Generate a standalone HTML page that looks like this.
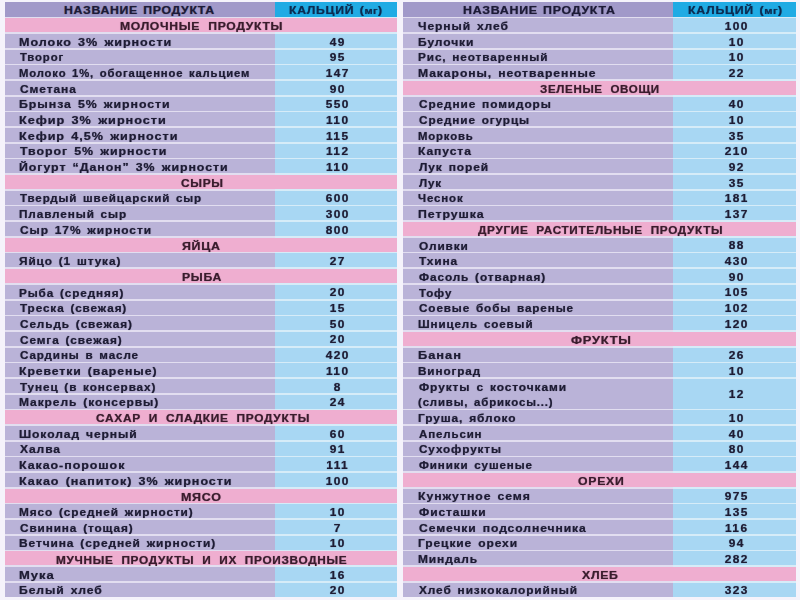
<!DOCTYPE html>
<html><head><meta charset="utf-8"><style>
html,body{margin:0;padding:0;}
body{width:800px;height:600px;position:relative;overflow:hidden;background:#f5f3fb;font-family:"Liberation Sans",sans-serif;}
.b{position:absolute;}
#w{position:absolute;left:0;top:0;width:800px;height:600px;filter:blur(0px);}
span{position:absolute;white-space:nowrap;line-height:12px;font-weight:bold;transform-origin:0 0;-webkit-text-stroke:0.15px;text-shadow:0 0 1px rgba(20,20,40,0.45);}
.tbl{position:absolute;background:#e2def0;}
.tbl2{background:#d6ecf8;}
.hn{background:#a199c9;}
.hc{background:#20abe4;}
.sec{background:#efaed0;}
.nm{background:#bab3d8;}
.val{background:#a8d7f3;}
.th{font-size:10.5px;letter-spacing:0.6px;word-spacing:1.0px;color:#1c1a36;}
.tc{color:#0c2c52;word-spacing:1.2px;}
small{font-size:9.5px;letter-spacing:0.3px;}
.ts{font-size:10.5px;letter-spacing:0.6px;word-spacing:3.5px;color:#3a1c2c;}
.tn{font-size:10.5px;letter-spacing:0.8px;word-spacing:1.5px;color:#1e1c34;}
.tv{width:80px;text-align:center;transform-origin:50% 0;transform:scaleX(1.1);font-size:10.8px;letter-spacing:1.3px;text-indent:1.3px;color:#1e1c34;}
</style></head><body><div id="w">
<div class="tbl" style="left:5.0px;top:2.20px;width:271.0px;height:594.56px"></div>
<div class="tbl tbl2" style="left:275px;top:2.20px;width:122.0px;height:594.56px"></div>
<div class="b hn" style="left:5.0px;top:2.20px;width:271.0px;height:14.50px"></div>
<div class="b hc" style="left:275px;top:2.20px;width:122.0px;height:14.50px"></div>
<div class="b sec" style="left:5.0px;top:18.28px;width:392.0px;height:14.00px"></div>
<div class="b nm" style="left:5.0px;top:33.96px;width:271.0px;height:14.00px"></div>
<div class="b val" style="left:275px;top:33.96px;width:122.0px;height:14.00px"></div>
<div class="b nm" style="left:5.0px;top:49.64px;width:271.0px;height:14.00px"></div>
<div class="b val" style="left:275px;top:49.64px;width:122.0px;height:14.00px"></div>
<div class="b nm" style="left:5.0px;top:65.32px;width:271.0px;height:14.00px"></div>
<div class="b val" style="left:275px;top:65.32px;width:122.0px;height:14.00px"></div>
<div class="b nm" style="left:5.0px;top:81.00px;width:271.0px;height:14.00px"></div>
<div class="b val" style="left:275px;top:81.00px;width:122.0px;height:14.00px"></div>
<div class="b nm" style="left:5.0px;top:96.68px;width:271.0px;height:14.00px"></div>
<div class="b val" style="left:275px;top:96.68px;width:122.0px;height:14.00px"></div>
<div class="b nm" style="left:5.0px;top:112.36px;width:271.0px;height:14.00px"></div>
<div class="b val" style="left:275px;top:112.36px;width:122.0px;height:14.00px"></div>
<div class="b nm" style="left:5.0px;top:128.04px;width:271.0px;height:14.00px"></div>
<div class="b val" style="left:275px;top:128.04px;width:122.0px;height:14.00px"></div>
<div class="b nm" style="left:5.0px;top:143.72px;width:271.0px;height:14.00px"></div>
<div class="b val" style="left:275px;top:143.72px;width:122.0px;height:14.00px"></div>
<div class="b nm" style="left:5.0px;top:159.40px;width:271.0px;height:14.00px"></div>
<div class="b val" style="left:275px;top:159.40px;width:122.0px;height:14.00px"></div>
<div class="b sec" style="left:5.0px;top:175.08px;width:392.0px;height:14.00px"></div>
<div class="b nm" style="left:5.0px;top:190.76px;width:271.0px;height:14.00px"></div>
<div class="b val" style="left:275px;top:190.76px;width:122.0px;height:14.00px"></div>
<div class="b nm" style="left:5.0px;top:206.44px;width:271.0px;height:14.00px"></div>
<div class="b val" style="left:275px;top:206.44px;width:122.0px;height:14.00px"></div>
<div class="b nm" style="left:5.0px;top:222.12px;width:271.0px;height:14.00px"></div>
<div class="b val" style="left:275px;top:222.12px;width:122.0px;height:14.00px"></div>
<div class="b sec" style="left:5.0px;top:237.80px;width:392.0px;height:14.00px"></div>
<div class="b nm" style="left:5.0px;top:253.48px;width:271.0px;height:14.00px"></div>
<div class="b val" style="left:275px;top:253.48px;width:122.0px;height:14.00px"></div>
<div class="b sec" style="left:5.0px;top:269.16px;width:392.0px;height:14.00px"></div>
<div class="b nm" style="left:5.0px;top:284.84px;width:271.0px;height:14.00px"></div>
<div class="b val" style="left:275px;top:284.84px;width:122.0px;height:14.00px"></div>
<div class="b nm" style="left:5.0px;top:300.52px;width:271.0px;height:14.00px"></div>
<div class="b val" style="left:275px;top:300.52px;width:122.0px;height:14.00px"></div>
<div class="b nm" style="left:5.0px;top:316.20px;width:271.0px;height:14.00px"></div>
<div class="b val" style="left:275px;top:316.20px;width:122.0px;height:14.00px"></div>
<div class="b nm" style="left:5.0px;top:331.88px;width:271.0px;height:14.00px"></div>
<div class="b val" style="left:275px;top:331.88px;width:122.0px;height:14.00px"></div>
<div class="b nm" style="left:5.0px;top:347.56px;width:271.0px;height:14.00px"></div>
<div class="b val" style="left:275px;top:347.56px;width:122.0px;height:14.00px"></div>
<div class="b nm" style="left:5.0px;top:363.24px;width:271.0px;height:14.00px"></div>
<div class="b val" style="left:275px;top:363.24px;width:122.0px;height:14.00px"></div>
<div class="b nm" style="left:5.0px;top:378.92px;width:271.0px;height:14.00px"></div>
<div class="b val" style="left:275px;top:378.92px;width:122.0px;height:14.00px"></div>
<div class="b nm" style="left:5.0px;top:394.60px;width:271.0px;height:14.00px"></div>
<div class="b val" style="left:275px;top:394.60px;width:122.0px;height:14.00px"></div>
<div class="b sec" style="left:5.0px;top:410.28px;width:392.0px;height:14.00px"></div>
<div class="b nm" style="left:5.0px;top:425.96px;width:271.0px;height:14.00px"></div>
<div class="b val" style="left:275px;top:425.96px;width:122.0px;height:14.00px"></div>
<div class="b nm" style="left:5.0px;top:441.64px;width:271.0px;height:14.00px"></div>
<div class="b val" style="left:275px;top:441.64px;width:122.0px;height:14.00px"></div>
<div class="b nm" style="left:5.0px;top:457.32px;width:271.0px;height:14.00px"></div>
<div class="b val" style="left:275px;top:457.32px;width:122.0px;height:14.00px"></div>
<div class="b nm" style="left:5.0px;top:473.00px;width:271.0px;height:14.00px"></div>
<div class="b val" style="left:275px;top:473.00px;width:122.0px;height:14.00px"></div>
<div class="b sec" style="left:5.0px;top:488.68px;width:392.0px;height:14.00px"></div>
<div class="b nm" style="left:5.0px;top:504.36px;width:271.0px;height:14.00px"></div>
<div class="b val" style="left:275px;top:504.36px;width:122.0px;height:14.00px"></div>
<div class="b nm" style="left:5.0px;top:520.04px;width:271.0px;height:14.00px"></div>
<div class="b val" style="left:275px;top:520.04px;width:122.0px;height:14.00px"></div>
<div class="b nm" style="left:5.0px;top:535.72px;width:271.0px;height:14.00px"></div>
<div class="b val" style="left:275px;top:535.72px;width:122.0px;height:14.00px"></div>
<div class="b sec" style="left:5.0px;top:551.40px;width:392.0px;height:14.00px"></div>
<div class="b nm" style="left:5.0px;top:567.08px;width:271.0px;height:14.00px"></div>
<div class="b val" style="left:275px;top:567.08px;width:122.0px;height:14.00px"></div>
<div class="b nm" style="left:5.0px;top:582.76px;width:271.0px;height:14.00px"></div>
<div class="b val" style="left:275px;top:582.76px;width:122.0px;height:14.00px"></div>
<div class="tbl" style="left:403.2px;top:2.20px;width:270.3px;height:594.56px"></div>
<div class="tbl tbl2" style="left:672.5px;top:2.20px;width:123.70000000000005px;height:594.56px"></div>
<div class="b hn" style="left:403.2px;top:2.20px;width:270.3px;height:14.50px"></div>
<div class="b hc" style="left:672.5px;top:2.20px;width:123.70000000000005px;height:14.50px"></div>
<div class="b nm" style="left:403.2px;top:18.28px;width:270.3px;height:14.00px"></div>
<div class="b val" style="left:672.5px;top:18.28px;width:123.70000000000005px;height:14.00px"></div>
<div class="b nm" style="left:403.2px;top:33.96px;width:270.3px;height:14.00px"></div>
<div class="b val" style="left:672.5px;top:33.96px;width:123.70000000000005px;height:14.00px"></div>
<div class="b nm" style="left:403.2px;top:49.64px;width:270.3px;height:14.00px"></div>
<div class="b val" style="left:672.5px;top:49.64px;width:123.70000000000005px;height:14.00px"></div>
<div class="b nm" style="left:403.2px;top:65.32px;width:270.3px;height:14.00px"></div>
<div class="b val" style="left:672.5px;top:65.32px;width:123.70000000000005px;height:14.00px"></div>
<div class="b sec" style="left:403.2px;top:81.00px;width:393.00000000000006px;height:14.00px"></div>
<div class="b nm" style="left:403.2px;top:96.68px;width:270.3px;height:14.00px"></div>
<div class="b val" style="left:672.5px;top:96.68px;width:123.70000000000005px;height:14.00px"></div>
<div class="b nm" style="left:403.2px;top:112.36px;width:270.3px;height:14.00px"></div>
<div class="b val" style="left:672.5px;top:112.36px;width:123.70000000000005px;height:14.00px"></div>
<div class="b nm" style="left:403.2px;top:128.04px;width:270.3px;height:14.00px"></div>
<div class="b val" style="left:672.5px;top:128.04px;width:123.70000000000005px;height:14.00px"></div>
<div class="b nm" style="left:403.2px;top:143.72px;width:270.3px;height:14.00px"></div>
<div class="b val" style="left:672.5px;top:143.72px;width:123.70000000000005px;height:14.00px"></div>
<div class="b nm" style="left:403.2px;top:159.40px;width:270.3px;height:14.00px"></div>
<div class="b val" style="left:672.5px;top:159.40px;width:123.70000000000005px;height:14.00px"></div>
<div class="b nm" style="left:403.2px;top:175.08px;width:270.3px;height:14.00px"></div>
<div class="b val" style="left:672.5px;top:175.08px;width:123.70000000000005px;height:14.00px"></div>
<div class="b nm" style="left:403.2px;top:190.76px;width:270.3px;height:14.00px"></div>
<div class="b val" style="left:672.5px;top:190.76px;width:123.70000000000005px;height:14.00px"></div>
<div class="b nm" style="left:403.2px;top:206.44px;width:270.3px;height:14.00px"></div>
<div class="b val" style="left:672.5px;top:206.44px;width:123.70000000000005px;height:14.00px"></div>
<div class="b sec" style="left:403.2px;top:222.12px;width:393.00000000000006px;height:14.00px"></div>
<div class="b nm" style="left:403.2px;top:237.80px;width:270.3px;height:14.00px"></div>
<div class="b val" style="left:672.5px;top:237.80px;width:123.70000000000005px;height:14.00px"></div>
<div class="b nm" style="left:403.2px;top:253.48px;width:270.3px;height:14.00px"></div>
<div class="b val" style="left:672.5px;top:253.48px;width:123.70000000000005px;height:14.00px"></div>
<div class="b nm" style="left:403.2px;top:269.16px;width:270.3px;height:14.00px"></div>
<div class="b val" style="left:672.5px;top:269.16px;width:123.70000000000005px;height:14.00px"></div>
<div class="b nm" style="left:403.2px;top:284.84px;width:270.3px;height:14.00px"></div>
<div class="b val" style="left:672.5px;top:284.84px;width:123.70000000000005px;height:14.00px"></div>
<div class="b nm" style="left:403.2px;top:300.52px;width:270.3px;height:14.00px"></div>
<div class="b val" style="left:672.5px;top:300.52px;width:123.70000000000005px;height:14.00px"></div>
<div class="b nm" style="left:403.2px;top:316.20px;width:270.3px;height:14.00px"></div>
<div class="b val" style="left:672.5px;top:316.20px;width:123.70000000000005px;height:14.00px"></div>
<div class="b sec" style="left:403.2px;top:331.88px;width:393.00000000000006px;height:14.00px"></div>
<div class="b nm" style="left:403.2px;top:347.56px;width:270.3px;height:14.00px"></div>
<div class="b val" style="left:672.5px;top:347.56px;width:123.70000000000005px;height:14.00px"></div>
<div class="b nm" style="left:403.2px;top:363.24px;width:270.3px;height:14.00px"></div>
<div class="b val" style="left:672.5px;top:363.24px;width:123.70000000000005px;height:14.00px"></div>
<div class="b nm" style="left:403.2px;top:378.92px;width:270.3px;height:29.68px"></div>
<div class="b val" style="left:672.5px;top:378.92px;width:123.70000000000005px;height:29.68px"></div>
<div class="b nm" style="left:403.2px;top:410.28px;width:270.3px;height:14.00px"></div>
<div class="b val" style="left:672.5px;top:410.28px;width:123.70000000000005px;height:14.00px"></div>
<div class="b nm" style="left:403.2px;top:425.96px;width:270.3px;height:14.00px"></div>
<div class="b val" style="left:672.5px;top:425.96px;width:123.70000000000005px;height:14.00px"></div>
<div class="b nm" style="left:403.2px;top:441.64px;width:270.3px;height:14.00px"></div>
<div class="b val" style="left:672.5px;top:441.64px;width:123.70000000000005px;height:14.00px"></div>
<div class="b nm" style="left:403.2px;top:457.32px;width:270.3px;height:14.00px"></div>
<div class="b val" style="left:672.5px;top:457.32px;width:123.70000000000005px;height:14.00px"></div>
<div class="b sec" style="left:403.2px;top:473.00px;width:393.00000000000006px;height:14.00px"></div>
<div class="b nm" style="left:403.2px;top:488.68px;width:270.3px;height:14.00px"></div>
<div class="b val" style="left:672.5px;top:488.68px;width:123.70000000000005px;height:14.00px"></div>
<div class="b nm" style="left:403.2px;top:504.36px;width:270.3px;height:14.00px"></div>
<div class="b val" style="left:672.5px;top:504.36px;width:123.70000000000005px;height:14.00px"></div>
<div class="b nm" style="left:403.2px;top:520.04px;width:270.3px;height:14.00px"></div>
<div class="b val" style="left:672.5px;top:520.04px;width:123.70000000000005px;height:14.00px"></div>
<div class="b nm" style="left:403.2px;top:535.72px;width:270.3px;height:14.00px"></div>
<div class="b val" style="left:672.5px;top:535.72px;width:123.70000000000005px;height:14.00px"></div>
<div class="b nm" style="left:403.2px;top:551.40px;width:270.3px;height:14.00px"></div>
<div class="b val" style="left:672.5px;top:551.40px;width:123.70000000000005px;height:14.00px"></div>
<div class="b sec" style="left:403.2px;top:567.08px;width:393.00000000000006px;height:14.00px"></div>
<div class="b nm" style="left:403.2px;top:582.76px;width:270.3px;height:14.00px"></div>
<div class="b val" style="left:672.5px;top:582.76px;width:123.70000000000005px;height:14.00px"></div>
<span class="th" style="left:64.33px;top:4.20px;transform:scaleX(1.1673)">НАЗВАНИЕ ПРОДУКТА</span>
<span class="th tc" style="left:289.14px;top:4.20px;transform:scaleX(1.1633)">КАЛЬЦИЙ (<small>мг</small>)</span>
<span class="ts" style="left:119.54px;top:20.48px;transform:scaleX(1.1568)">МОЛОЧНЫЕ ПРОДУКТЫ</span>
<span class="tn" style="left:18.60px;top:35.66px;transform:scaleX(1.196)">Молоко 3% жирности</span>
<span class="tv" style="left:296.7px;top:35.56px">49</span>
<span class="tn" style="left:19.80px;top:51.34px;transform:scaleX(1.08)">Творог</span>
<span class="tv" style="left:296.7px;top:51.24px">95</span>
<span class="tn" style="left:18.73px;top:67.02px;transform:scaleX(1.0737)">Молоко 1%, обогащенное кальцием</span>
<span class="tv" style="left:296.7px;top:66.92px">147</span>
<span class="tn" style="left:19.80px;top:82.70px;transform:scaleX(1.1388)">Сметана</span>
<span class="tv" style="left:296.7px;top:82.60px">90</span>
<span class="tn" style="left:18.63px;top:98.38px;transform:scaleX(1.1748)">Брынза 5% жирности</span>
<span class="tv" style="left:296.7px;top:98.28px">550</span>
<span class="tn" style="left:18.59px;top:114.06px;transform:scaleX(1.2083)">Кефир 3% жирности</span>
<span class="tv" style="left:296.7px;top:113.96px">110</span>
<span class="tn" style="left:18.60px;top:129.74px;transform:scaleX(1.2015)">Кефир 4,5% жирности</span>
<span class="tv" style="left:296.7px;top:129.64px">115</span>
<span class="tn" style="left:19.80px;top:145.42px;transform:scaleX(1.1805)">Творог 5% жирности</span>
<span class="tv" style="left:296.7px;top:145.32px">112</span>
<span class="tn" style="left:18.62px;top:161.10px;transform:scaleX(1.1773)">Йогурт “Данон” 3% жирности</span>
<span class="tv" style="left:296.7px;top:161.00px">110</span>
<span class="ts" style="left:181.00px;top:177.28px;transform:scaleX(1.1389)">СЫРЫ</span>
<span class="tn" style="left:19.80px;top:192.46px;transform:scaleX(1.1024)">Твердый швейцарский сыр</span>
<span class="tv" style="left:296.7px;top:192.36px">600</span>
<span class="tn" style="left:18.68px;top:208.14px;transform:scaleX(1.1191)">Плавленый сыр</span>
<span class="tv" style="left:296.7px;top:208.04px">300</span>
<span class="tn" style="left:19.80px;top:223.82px;transform:scaleX(1.1374)">Сыр 17% жирности</span>
<span class="tv" style="left:296.7px;top:223.72px">800</span>
<span class="ts" style="left:181.62px;top:240.00px;transform:scaleX(1.1806)">ЯЙЦА</span>
<span class="tn" style="left:18.67px;top:255.18px;transform:scaleX(1.1258)">Яйцо (1 штука)</span>
<span class="tv" style="left:296.7px;top:255.08px">27</span>
<span class="ts" style="left:181.64px;top:271.36px;transform:scaleX(1.1625)">РЫБА</span>
<span class="tn" style="left:18.68px;top:286.54px;transform:scaleX(1.1163)">Рыба (средняя)</span>
<span class="tv" style="left:296.7px;top:286.44px">20</span>
<span class="tn" style="left:19.80px;top:302.22px;transform:scaleX(1.1179)">Треска (свежая)</span>
<span class="tv" style="left:296.7px;top:302.12px">15</span>
<span class="tn" style="left:19.80px;top:317.90px;transform:scaleX(1.1232)">Сельдь (свежая)</span>
<span class="tv" style="left:296.7px;top:317.80px">50</span>
<span class="tn" style="left:19.80px;top:333.58px;transform:scaleX(1.1244)">Семга (свежая)</span>
<span class="tv" style="left:296.7px;top:333.48px">20</span>
<span class="tn" style="left:19.80px;top:349.26px;transform:scaleX(1.1104)">Сардины в масле</span>
<span class="tv" style="left:296.7px;top:349.16px">420</span>
<span class="tn" style="left:18.64px;top:364.94px;transform:scaleX(1.1641)">Креветки (вареные)</span>
<span class="tv" style="left:296.7px;top:364.84px">110</span>
<span class="tn" style="left:19.80px;top:380.62px;transform:scaleX(1.1174)">Тунец (в консервах)</span>
<span class="tv" style="left:296.7px;top:380.52px">8</span>
<span class="tn" style="left:18.66px;top:396.30px;transform:scaleX(1.1433)">Макрель (консервы)</span>
<span class="tv" style="left:296.7px;top:396.20px">24</span>
<span class="ts" style="left:96.00px;top:412.48px;transform:scaleX(1.1337)">САХАР И СЛАДКИЕ ПРОДУКТЫ</span>
<span class="tn" style="left:18.65px;top:427.66px;transform:scaleX(1.1505)">Шоколад черный</span>
<span class="tv" style="left:296.7px;top:427.56px">60</span>
<span class="tn" style="left:19.80px;top:443.34px;transform:scaleX(1.1486)">Халва</span>
<span class="tv" style="left:296.7px;top:443.24px">91</span>
<span class="tn" style="left:18.62px;top:459.02px;transform:scaleX(1.1841)">Какао-порошок</span>
<span class="tv" style="left:296.7px;top:458.92px">111</span>
<span class="tn" style="left:18.61px;top:474.70px;transform:scaleX(1.1932)">Какао (напиток) 3% жирности</span>
<span class="tv" style="left:296.7px;top:474.60px">100</span>
<span class="ts" style="left:180.81px;top:490.88px;transform:scaleX(1.1875)">МЯСО</span>
<span class="tn" style="left:18.67px;top:506.06px;transform:scaleX(1.1255)">Мясо (средней жирности)</span>
<span class="tv" style="left:296.7px;top:505.96px">10</span>
<span class="tn" style="left:19.80px;top:521.74px;transform:scaleX(1.122)">Свинина (тощая)</span>
<span class="tv" style="left:296.7px;top:521.64px">7</span>
<span class="tn" style="left:18.66px;top:537.42px;transform:scaleX(1.1357)">Ветчина (средней жирности)</span>
<span class="tv" style="left:296.7px;top:537.32px">10</span>
<span class="ts" style="left:55.67px;top:553.60px;transform:scaleX(1.1253)">МУЧНЫЕ ПРОДУКТЫ И ИХ ПРОИЗВОДНЫЕ</span>
<span class="tn" style="left:18.56px;top:568.78px;transform:scaleX(1.237)">Мука</span>
<span class="tv" style="left:296.7px;top:568.68px">16</span>
<span class="tn" style="left:18.64px;top:584.46px;transform:scaleX(1.1557)">Белый хлеб</span>
<span class="tv" style="left:296.7px;top:584.36px">20</span>
<span class="th" style="left:462.82px;top:4.20px;transform:scaleX(1.1811)">НАЗВАНИЕ ПРОДУКТА</span>
<span class="th tc" style="left:688.02px;top:4.20px;transform:scaleX(1.1772)">КАЛЬЦИЙ (<small>мг</small>)</span>
<span class="tn" style="left:418.05px;top:19.98px;transform:scaleX(1.1468)">Черный хлеб</span>
<span class="tv" style="left:695.7px;top:19.88px">100</span>
<span class="tn" style="left:418.06px;top:35.66px;transform:scaleX(1.1447)">Булочки</span>
<span class="tv" style="left:695.7px;top:35.56px">10</span>
<span class="tn" style="left:418.08px;top:51.34px;transform:scaleX(1.1211)">Рис, неотваренный</span>
<span class="tv" style="left:695.7px;top:51.24px">10</span>
<span class="tn" style="left:418.04px;top:67.02px;transform:scaleX(1.1566)">Макароны, неотваренные</span>
<span class="tv" style="left:695.7px;top:66.92px">22</span>
<span class="ts" style="left:539.90px;top:83.20px;transform:scaleX(1.1)">ЗЕЛЕНЫЕ ОВОЩИ</span>
<span class="tn" style="left:419.20px;top:98.38px;transform:scaleX(1.1276)">Средние помидоры</span>
<span class="tv" style="left:695.7px;top:98.28px">40</span>
<span class="tn" style="left:419.20px;top:114.06px;transform:scaleX(1.1204)">Средние огурцы</span>
<span class="tv" style="left:695.7px;top:113.96px">10</span>
<span class="tn" style="left:418.12px;top:129.74px;transform:scaleX(1.0776)">Морковь</span>
<span class="tv" style="left:695.7px;top:129.64px">35</span>
<span class="tn" style="left:418.05px;top:145.42px;transform:scaleX(1.1511)">Капуста</span>
<span class="tv" style="left:695.7px;top:145.32px">210</span>
<span class="tn" style="left:419.20px;top:161.10px;transform:scaleX(1.1383)">Лук порей</span>
<span class="tv" style="left:695.7px;top:161.00px">92</span>
<span class="tn" style="left:419.20px;top:176.78px;transform:scaleX(1.105)">Лук</span>
<span class="tv" style="left:695.7px;top:176.68px">35</span>
<span class="tn" style="left:418.11px;top:192.46px;transform:scaleX(1.09)">Чеснок</span>
<span class="tv" style="left:695.7px;top:192.36px">181</span>
<span class="tn" style="left:418.03px;top:208.14px;transform:scaleX(1.1727)">Петрушка</span>
<span class="tv" style="left:695.7px;top:208.04px">137</span>
<span class="ts" style="left:478.40px;top:224.32px;transform:scaleX(1.1206)">ДРУГИЕ РАСТИТЕЛЬНЫЕ ПРОДУКТЫ</span>
<span class="tn" style="left:419.20px;top:239.50px;transform:scaleX(1.1279)">Оливки</span>
<span class="tv" style="left:695.7px;top:239.40px">88</span>
<span class="tn" style="left:419.20px;top:255.18px;transform:scaleX(1.1353)">Тхина</span>
<span class="tv" style="left:695.7px;top:255.08px">430</span>
<span class="tn" style="left:419.20px;top:270.86px;transform:scaleX(1.1232)">Фасоль (отварная)</span>
<span class="tv" style="left:695.7px;top:270.76px">90</span>
<span class="tn" style="left:419.20px;top:286.54px;transform:scaleX(1.0966)">Тофу</span>
<span class="tv" style="left:695.7px;top:286.44px">105</span>
<span class="tn" style="left:419.20px;top:302.22px;transform:scaleX(1.1145)">Соевые бобы вареные</span>
<span class="tv" style="left:695.7px;top:302.12px">102</span>
<span class="tn" style="left:418.09px;top:317.90px;transform:scaleX(1.1059)">Шницель соевый</span>
<span class="tv" style="left:695.7px;top:317.80px">120</span>
<span class="ts" style="left:570.80px;top:334.08px;transform:scaleX(1.2292)">ФРУКТЫ</span>
<span class="tn" style="left:417.98px;top:349.26px;transform:scaleX(1.2212)">Банан</span>
<span class="tv" style="left:695.7px;top:349.16px">26</span>
<span class="tn" style="left:418.09px;top:364.94px;transform:scaleX(1.1145)">Виноград</span>
<span class="tv" style="left:695.7px;top:364.84px">10</span>
<span class="tn" style="left:419.20px;top:380.62px;transform:scaleX(1.138)">Фрукты с косточками</span>
<span class="tn" style="left:418.11px;top:396.30px;transform:scaleX(1.0854)">(сливы, абрикосы...)</span>
<span class="tv" style="left:695.7px;top:388.36px">12</span>
<span class="tn" style="left:418.07px;top:411.98px;transform:scaleX(1.1341)">Груша, яблоко</span>
<span class="tv" style="left:695.7px;top:411.88px">10</span>
<span class="tn" style="left:419.20px;top:427.66px;transform:scaleX(1.0946)">Апельсин</span>
<span class="tv" style="left:695.7px;top:427.56px">40</span>
<span class="tn" style="left:419.20px;top:443.34px;transform:scaleX(1.1164)">Сухофрукты</span>
<span class="tv" style="left:695.7px;top:443.24px">80</span>
<span class="tn" style="left:419.20px;top:459.02px;transform:scaleX(1.1059)">Финики сушеные</span>
<span class="tv" style="left:695.7px;top:458.92px">144</span>
<span class="ts" style="left:578.00px;top:475.20px;transform:scaleX(1.1684)">ОРЕХИ</span>
<span class="tn" style="left:418.03px;top:490.38px;transform:scaleX(1.166)">Кунжутное семя</span>
<span class="tv" style="left:695.7px;top:490.28px">975</span>
<span class="tn" style="left:419.20px;top:506.06px;transform:scaleX(1.1414)">Фисташки</span>
<span class="tv" style="left:695.7px;top:505.96px">135</span>
<span class="tn" style="left:419.20px;top:521.74px;transform:scaleX(1.1538)">Семечки подсолнечника</span>
<span class="tv" style="left:695.7px;top:521.64px">116</span>
<span class="tn" style="left:418.06px;top:537.42px;transform:scaleX(1.1435)">Грецкие орехи</span>
<span class="tv" style="left:695.7px;top:537.32px">94</span>
<span class="tn" style="left:418.06px;top:553.10px;transform:scaleX(1.1373)">Миндаль</span>
<span class="tv" style="left:695.7px;top:553.00px">282</span>
<span class="ts" style="left:582.40px;top:569.28px;transform:scaleX(1.17)">ХЛЕБ</span>
<span class="tn" style="left:419.20px;top:584.46px;transform:scaleX(1.1295)">Хлеб низкокалорийный</span>
<span class="tv" style="left:695.7px;top:584.36px">323</span>
</div></body></html>
